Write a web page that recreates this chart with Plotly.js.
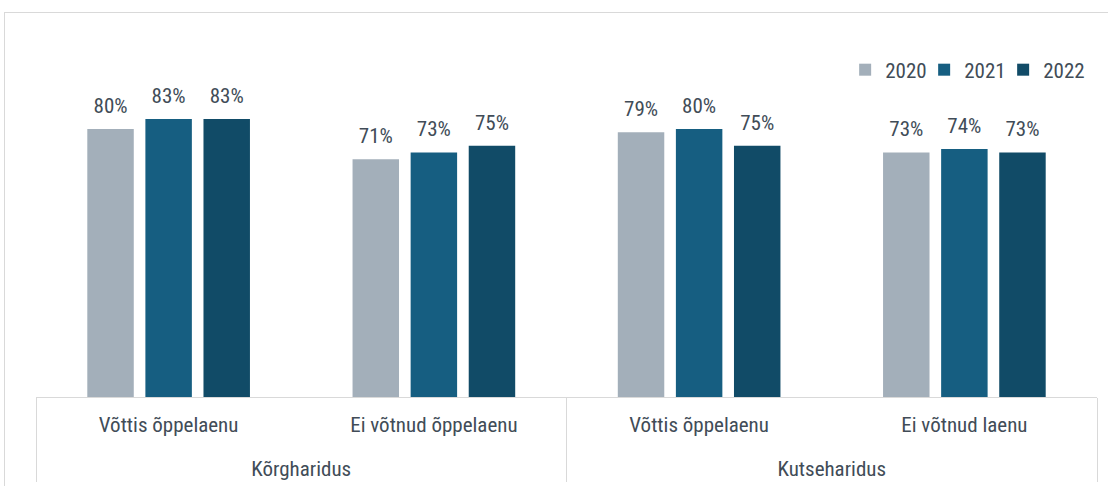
<!DOCTYPE html>
<html>
<head>
<meta charset="utf-8">
<script src="https://cdn.plot.ly/plotly-3.0.1.min.js"></script>
<style>
  html, body { margin: 0; padding: 0; background: #ffffff; }
  #frame { position: absolute; left: 4px; top: 12px; width: 1200px; height: 600px; border: 1px solid #d9d9d9; box-sizing: border-box; }
  #chart { position: absolute; left: 0; top: 0; width: 1108px; height: 486px; }
</style>
</head>
<body>
<div id="frame"></div>
<div id="chart"></div>
<script>
const groups = ['Kõrgharidus', 'Kõrgharidus', 'Kutseharidus', 'Kutseharidus'];
const categories = ['Võttis õppelaenu', 'Ei võtnud õppelaenu', 'Võttis õppelaenu', 'Ei võtnud laenu'];
const years = ['2020', '2021', '2022'];
const values2020 = [80, 71, 79, 73];
const values2021 = [83, 73, 80, 74];
const values2022 = [83, 75, 75, 73];
const seriesValues = [values2020, values2021, values2022];
const colors = ['#a3afba', '#165e81', '#114b67'];

const FONT = '"Roboto Condensed", "Liberation Sans Narrow", "DejaVu Sans Condensed", Roboto, sans-serif';
const TEXT_COLOR = '#414c57';
const BARGAP = 0.343;

// child labels get an extra blank line so the parent row sits lower, as in the reference
const childLabels = categories.map(c => c + '<br>\u00a0');

const traces = [];
years.forEach((yr, i) => {
  traces.push({
    type: 'bar',
    name: yr,
    x: [groups, childLabels],
    y: seriesValues[i],
    marker: { color: colors[i] },
    hoverinfo: 'skip'
  });
});
years.forEach((yr, i) => {
  traces.push({
    type: 'scatter',
    mode: 'markers+text',
    name: yr,
    showlegend: false,
    x: [groups, childLabels],
    y: seriesValues[i],
    text: seriesValues[i].map(v => v + '%'),
    textposition: 'top center',
    textfont: { family: FONT, size: 21, color: TEXT_COLOR },
    marker: { size: 16, color: 'rgba(0,0,0,0)' },
    hoverinfo: 'skip',
    cliponaxis: false
  });
});

const layout = {
  width: 1108,
  height: 486,
  margin: { l: 36, r: 11, t: 62, b: 89 },
  paper_bgcolor: 'rgba(0,0,0,0)',
  plot_bgcolor: 'rgba(0,0,0,0)',
  barmode: 'group',
  bargap: BARGAP,
  bargroupgap: 0.2,
  scattermode: 'group',
  scattergap: BARGAP,
  font: { family: FONT, size: 21, color: TEXT_COLOR },
  showlegend: true,
  legend: {
    orientation: 'h',
    x: 0.986, xanchor: 'right',
    y: 0.976, yanchor: 'middle',
    entrywidth: 34,
    font: { family: FONT, size: 21, color: TEXT_COLOR },
    traceorder: 'normal'
  },
  xaxis: {
    type: 'multicategory',
    showline: true,
    linecolor: '#d9d9d9',
    linewidth: 1,
    showgrid: false,
    ticks: '',
    ticklabelstandoff: 9,
    showdividers: true,
    dividercolor: '#d9d9d9',
    dividerwidth: 1,
    tickfont: { family: FONT, size: 21, color: TEXT_COLOR }
  },
  yaxis: {
    range: [0, 100],
    visible: false,
    showgrid: false,
    zeroline: false,
    fixedrange: true
  }
};

Plotly.newPlot('chart', traces, layout, { displayModeBar: false, staticPlot: true }).then(() => {
  // let the last legend label run past the compact entry width instead of being clipped
  document.querySelectorAll('#chart .legend, #chart .legend .scrollbox').forEach(el => el.removeAttribute('clip-path'));
});
</script>
</body>
</html>
